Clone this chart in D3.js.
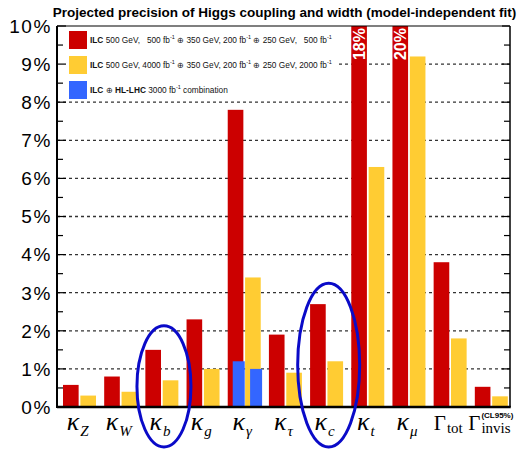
<!DOCTYPE html>
<html>
<head>
<meta charset="utf-8">
<script src="https://cdn.jsdelivr.net/npm/d3@7"></script>
<style>
  body { margin: 0; background: #fff; }
  svg text { white-space: pre; }
</style>
</head>
<body>
<script>
// Projected relative precision (%) of Higgs couplings and width, model-independent fit
const categories = ["kZ", "kW", "kb", "kg", "kgamma", "ktau", "kc", "kt", "kmu", "Gtot", "Ginv"];
const ilc500     = [0.58, 0.80, 1.5, 2.3, 7.8, 1.9, 2.7, 18, 20, 3.8, 0.53];
const ilcLumiUp  = [0.30, 0.40, 0.70, 1.0, 3.4, 0.9, 1.2, 6.3, 9.2, 1.8, 0.28];
// ILC (+) HL-LHC combination, overlaid on the two ILC scenarios for kappa_gamma
const hlCombCats   = ["kgamma", "kgamma"];
const hlCombSeries = ["ilc500", "lumiUp"];
const hlCombValues = [1.2, 1.0];
const yTicks = [0, 1, 2, 3, 4, 5, 6, 7, 8, 9, 10];
const circledCats = ["kb", "kc"];

// axis labels: main symbol, subscript, optional stacked superscript
const labelMain = ["κ", "κ", "κ", "κ", "κ", "κ", "κ", "κ", "κ", "Γ", "Γ"];
const labelSub  = ["Z", "W", "b", "g", "γ", "τ", "c", "t", "μ", "tot", "invis"];
const labelSup  = ["", "", "", "", "", "", "", "", "", "", "(CL95%)"];

const title = "Projected precision of Higgs coupling and width (model-independent fit)";
const legendRows = [
  { color: "#cc0000", parts: [["ILC", "b"], [" 500 GeV,   500 fb"], ["-1", "s"], [" ⊕ 350 GeV, 200 fb"], ["-1", "s"], [" ⊕ 250 GeV,   500 fb"], ["-1", "s"]] },
  { color: "#ffcc33", parts: [["ILC", "b"], [" 500 GeV, 4000 fb"], ["-1", "s"], [" ⊕ 350 GeV, 200 fb"], ["-1", "s"], [" ⊕ 250 GeV, 2000 fb"], ["-1", "s"]] },
  { color: "#3366ff", parts: [["ILC", "b"], [" ⊕ "], ["HL-LHC", "b"], [" 3000 fb"], ["-1", "s"], [" combination"]] }
];

const W = 523, H = 449;
const L = 57, R = 510, T = 26, B = 407;
const colors = { ilc500: "#cc0000", lumiUp: "#ffcc33", comb: "#3366ff" };

const svg = d3.select("body").append("svg").attr("width", W).attr("height", H);

const x = d3.scaleBand().domain(categories).range([L, R]).padding(0);
const x1 = d3.scaleBand().domain(["ilc500", "lumiUp"]).range([6, 39]).paddingInner(0.1);
const y = d3.scaleLinear().domain([0, 10]).range([B, T]);

svg.append("defs").append("clipPath").attr("id", "plotclip")
  .append("rect").attr("x", L).attr("y", T).attr("width", R - L).attr("height", B - T);

// title
svg.append("text").attr("x", (L + R) / 2 + 1).attr("y", 17)
  .attr("text-anchor", "middle")
  .attr("font-family", "Liberation Sans, Arial, sans-serif")
  .attr("font-weight", "bold").attr("font-size", 13.5)
  .text(title);

// dashed gridlines
svg.append("g").selectAll("line").data(yTicks.filter(d => d > 0 && d < 10)).join("line")
  .attr("x1", L).attr("x2", R)
  .attr("y1", d => y(d)).attr("y2", d => y(d))
  .attr("stroke", "#333").attr("stroke-width", 1.3).attr("stroke-dasharray", "3,3");

// legend background hides gridlines beneath it
svg.append("rect").attr("x", L + 1).attr("y", T + 1).attr("width", 281).attr("height", 72).attr("fill", "#fff");

// bars
const rows = categories.map((c, i) => ({ cat: c, ilc500: ilc500[i], lumiUp: ilcLumiUp[i] }));
const barsG = svg.append("g").attr("clip-path", "url(#plotclip)");
["ilc500", "lumiUp"].forEach(s => {
  barsG.selectAll("rect." + s).data(rows).join("rect").attr("class", s)
    .attr("x", d => x(d.cat) + x1(s))
    .attr("width", x1.bandwidth())
    .attr("y", d => y(d[s]))
    .attr("height", d => B - y(d[s]))
    .attr("fill", colors[s]);
});
const comb = hlCombValues.map((v, i) => ({ cat: hlCombCats[i], series: hlCombSeries[i], value: v }));
barsG.selectAll("rect.comb").data(comb).join("rect").attr("class", "comb")
  .attr("x", d => x(d.cat) + x1(d.series) + 5)
  .attr("width", 12)
  .attr("y", d => y(d.value))
  .attr("height", d => B - y(d.value))
  .attr("fill", colors.comb);

// values beyond the axis range are written on the bar
const over = rows.filter(d => d.ilc500 > y.domain()[1]);
svg.append("g").selectAll("text").data(over).join("text")
  .attr("transform", d => `translate(${x(d.cat) + x1("ilc500") + x1.bandwidth() / 2},${T + 2}) rotate(-90)`)
  .attr("text-anchor", "end").attr("dy", "0.36em")
  .attr("fill", "#fff").attr("font-weight", "bold")
  .attr("font-family", "Liberation Sans, Arial, sans-serif").attr("font-size", 16)
  .text(d => d.ilc500 + "%");

// frame
svg.append("line").attr("x1", L).attr("x2", R).attr("y1", T).attr("y2", T).attr("stroke", "#000").attr("stroke-width", 1.2);
svg.append("line").attr("x1", R).attr("x2", R).attr("y1", T).attr("y2", B).attr("stroke", "#000").attr("stroke-width", 1.5);

// y axis ticks (both sides) and labels
const minor = d3.range(0.5, 10, 1);
const tk = svg.append("g").attr("stroke", "#000").attr("stroke-width", 1.2);
yTicks.forEach(v => {
  tk.append("line").attr("x1", L).attr("x2", L + 9).attr("y1", y(v)).attr("y2", y(v));
  tk.append("line").attr("x1", R).attr("x2", R - 8).attr("y1", y(v)).attr("y2", y(v));
});
minor.forEach(v => {
  tk.append("line").attr("x1", L).attr("x2", L + 6).attr("y1", y(v)).attr("y2", y(v));
  tk.append("line").attr("x1", R).attr("x2", R - 6).attr("y1", y(v)).attr("y2", y(v));
});
svg.append("g").selectAll("text").data(yTicks).join("text")
  .attr("x", 52).attr("y", d => y(d)).attr("dy", "0.36em")
  .attr("text-anchor", "end")
  .attr("font-family", "Liberation Sans, Arial, sans-serif").attr("font-size", 19)
  .attr("letter-spacing", 1.6)
  .text(d => d + "%");

svg.append("line").attr("x1", L).attr("x2", L).attr("y1", T).attr("y2", B + 1).attr("stroke", "#000").attr("stroke-width", 2);
svg.append("line").attr("x1", L).attr("x2", R + 0.75).attr("y1", B).attr("y2", B).attr("stroke", "#000").attr("stroke-width", 2.5);

// legend
const lg = svg.append("g");
legendRows.forEach((r, i) => {
  const cy = 40 + i * 25;
  lg.append("rect").attr("x", 69).attr("y", cy - 9).attr("width", 18).attr("height", 18).attr("fill", r.color);
  const t = lg.append("text").attr("x", 90).attr("y", cy + 3)
    .attr("font-family", "Liberation Sans, Arial, sans-serif").attr("font-size", 8.3).attr("fill", "#111");
  let raised = false;
  r.parts.forEach(p => {
    const ts = t.append("tspan").text(p[0]);
    if (p[1] === "b") ts.attr("font-weight", "bold");
    if (p[1] === "s") { ts.attr("font-size", 5.5).attr("dy", -4); raised = true; }
    else if (raised) { ts.attr("dy", 4); raised = false; }
  });
});

// category labels
const xl = svg.append("g");
categories.forEach((c, i) => {
  const cx = x(c) + x.bandwidth() / 2;
  const isKappa = labelMain[i] === "κ";
  const t = xl.append("text").attr("x", cx).attr("y", 430).attr("text-anchor", "middle")
    .attr("font-family", "Liberation Serif, Times New Roman, serif").attr("fill", "#000");
  t.append("tspan").text(labelMain[i])
    .attr("font-size", isKappa ? 26 : 21)
    .attr("font-style", isKappa ? "italic" : "normal");
  t.append("tspan").text(labelSub[i])
    .attr("font-size", 15).attr("dx", 1)
    .attr("dy", isKappa ? 6 : 3)
    .attr("font-style", isKappa ? "italic" : "normal");
  if (labelSup[i]) {
    const sx = t.node().getStartPositionOfChar(labelMain[i].length).x;
    xl.append("text").attr("x", sx).attr("y", 418)
      .attr("font-family", "Liberation Sans, Arial, sans-serif")
      .attr("font-weight", "bold").attr("font-size", 8)
      .text(labelSup[i]);
  }
});

// emphasis ellipses around selected categories
const ellipseSpec = { kb: { dx: 4, rx: 27, top: 2.13 }, kc: { dx: 4, rx: 31, top: 3.25 } };
const ellBottom = 447;
svg.append("g").selectAll("ellipse").data(circledCats).join("ellipse")
  .attr("cx", c => x(c) + x.bandwidth() / 2 + ellipseSpec[c].dx)
  .attr("cy", c => (y(ellipseSpec[c].top) + ellBottom) / 2)
  .attr("rx", c => ellipseSpec[c].rx)
  .attr("ry", c => (ellBottom - y(ellipseSpec[c].top)) / 2)
  .attr("fill", "none").attr("stroke", "#0a0ac8").attr("stroke-width", 3);
</script>
</body>
</html>
